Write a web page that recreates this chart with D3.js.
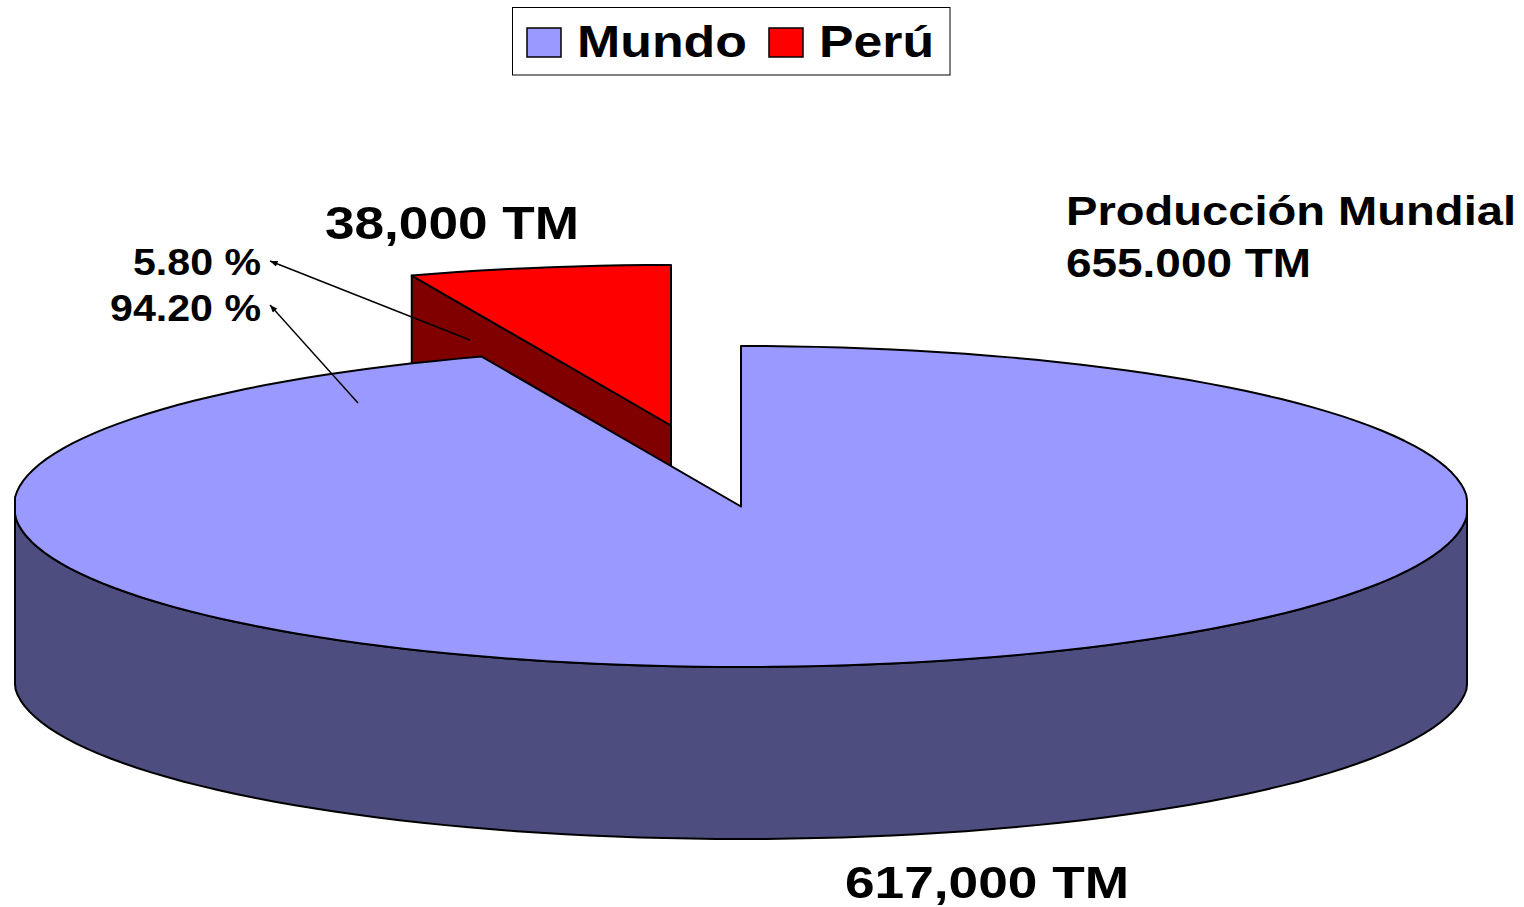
<!DOCTYPE html>
<meta charset="utf-8">
<title>Producción Mundial</title>
<style>
  html, body { margin: 0; background: #fff; }
  svg { display: block; }
  text { font-family: "Liberation Sans", Arial, sans-serif; font-weight: bold; fill: #000; }
</style>
<body>
<script src="https://d3js.org/d3.v7.min.js"></script>
<script>
// data
var categories = ['Mundo', 'Perú'];
var production = [617000, 38000];
var colorsTop = ['#9999ff', '#ff0000'];
var colorsSide = ['#4d4d80', '#800000'];
var percentLabels = ['5.80 %', '94.20 %'];
var tonLabels = ['617,000 TM', '38,000 TM'];
var totalLabels = ['Producción Mundial', '655.000 TM'];

var width = 1524, height = 907;

var svg = d3.select('body').append('svg')
  .attr('width', width)
  .attr('height', height);

svg.append('defs').append('marker')
  .attr('id', 'arrow')
  .attr('viewBox', '0 0 10 8')
  .attr('refX', 10)
  .attr('refY', 4)
  .attr('markerWidth', 8)
  .attr('markerHeight', 6)
  .attr('markerUnits', 'userSpaceOnUse')
  .attr('orient', 'auto')
  .append('path')
  .attr('d', 'M0,0L10,4L0,8z')
  .attr('fill', '#000');

// the tilted disc: unit circle -> page pixels
// x is clamped a hair inside the circle so the sides have a short straight bit like the original
var sx = d3.scaleLinear().domain([-0.9984, 0.9984]).range([15, 1467]).clamp(true);
var sy = d3.scaleLinear().domain([-1, 1]).range([346, 667]);
var depth = 172;
var explode = {x: -70, y: -81};

var pie = d3.pie().sort(null).value(function(d) { return d; });
var slices = pie(production);

var line = d3.line().x(function(d) { return d[0]; }).y(function(d) { return d[1]; });
var step = 0.035;

// angle 0 at twelve o'clock, clockwise
function rim(a, off, drop) {
  return [sx(Math.sin(a)) + off.x, sy(-Math.cos(a)) + off.y + (drop || 0)];
}
function arcPoints(a0, a1, off, drop) {
  var n = Math.max(2, Math.ceil(Math.abs(a1 - a0) / step));
  return d3.range(n + 1).map(function(i) {
    return rim(a0 + (a1 - a0) * i / n, off, drop);
  });
}
function apex(off, drop) {
  return [sx(0) + off.x, sy(0) + off.y + (drop || 0)];
}
function draw(points, fill) {
  svg.append('path')
    .attr('d', line(points) + 'Z')
    .attr('fill', fill)
    .attr('stroke', '#000')
    .attr('stroke-width', 2)
    .attr('stroke-linejoin', 'round');
}

// Perú is pulled out of the disc, so it goes first and the big slice covers it
var peru = slices[1];
draw([rim(peru.startAngle, explode), apex(explode), apex(explode, depth), rim(peru.startAngle, explode, depth)], colorsSide[1]);
draw(arcPoints(peru.startAngle, peru.endAngle, explode).concat([apex(explode)]), colorsTop[1]);

// front wall of Mundo, then its top
var none = {x: 0, y: 0};
var mundo = slices[0];
draw(arcPoints(Math.PI / 2, 3 * Math.PI / 2, none)
  .concat(arcPoints(3 * Math.PI / 2, Math.PI / 2, none, depth)), colorsSide[0]);
draw(arcPoints(mundo.startAngle, mundo.endAngle, none).concat([apex(none)]), colorsTop[0]);

// leader lines
var leaders = [
  {x1: 470, y1: 340, x2: 270, y2: 261},
  {x1: 358, y1: 403, x2: 270, y2: 305}
];
svg.selectAll('line.leader').data(leaders).enter().append('line')
  .attr('class', 'leader')
  .attr('x1', function(d) { return d.x1; })
  .attr('y1', function(d) { return d.y1; })
  .attr('x2', function(d) { return d.x2; })
  .attr('y2', function(d) { return d.y2; })
  .attr('stroke', '#000')
  .attr('stroke-width', 1.4)
  .attr('marker-end', 'url(#arrow)');

// the original text is stretched sideways, textLength does the same
function label(str, x, y, size, len) {
  svg.append('text')
    .attr('x', x)
    .attr('y', y)
    .attr('font-size', size)
    .attr('textLength', len)
    .attr('lengthAdjust', 'spacingAndGlyphs')
    .text(str);
}

label(tonLabels[1], 325, 239, 46, 254);
label(tonLabels[0], 845, 898, 45, 284);
label(totalLabels[0], 1066, 225, 40, 450);
label(totalLabels[1], 1066, 277, 40, 245);
label(percentLabels[0], 133, 275, 36, 128);
label(percentLabels[1], 110, 321, 36, 151);

// legend
svg.append('rect')
  .attr('x', 512.5).attr('y', 7.5)
  .attr('width', 437.5).attr('height', 67.5)
  .attr('fill', '#fff').attr('stroke', '#000').attr('stroke-width', 1);

var legendX = [527, 769];
var legendLen = [170, 115];
categories.forEach(function(c, i) {
  svg.append('rect')
    .attr('x', legendX[i]).attr('y', 28)
    .attr('width', 34).attr('height', 29)
    .attr('fill', colorsTop[i]).attr('stroke', '#000').attr('stroke-width', 1.5);
  label(c, legendX[i] + 50, 57, 44, legendLen[i]);
});
</script>
</body>
